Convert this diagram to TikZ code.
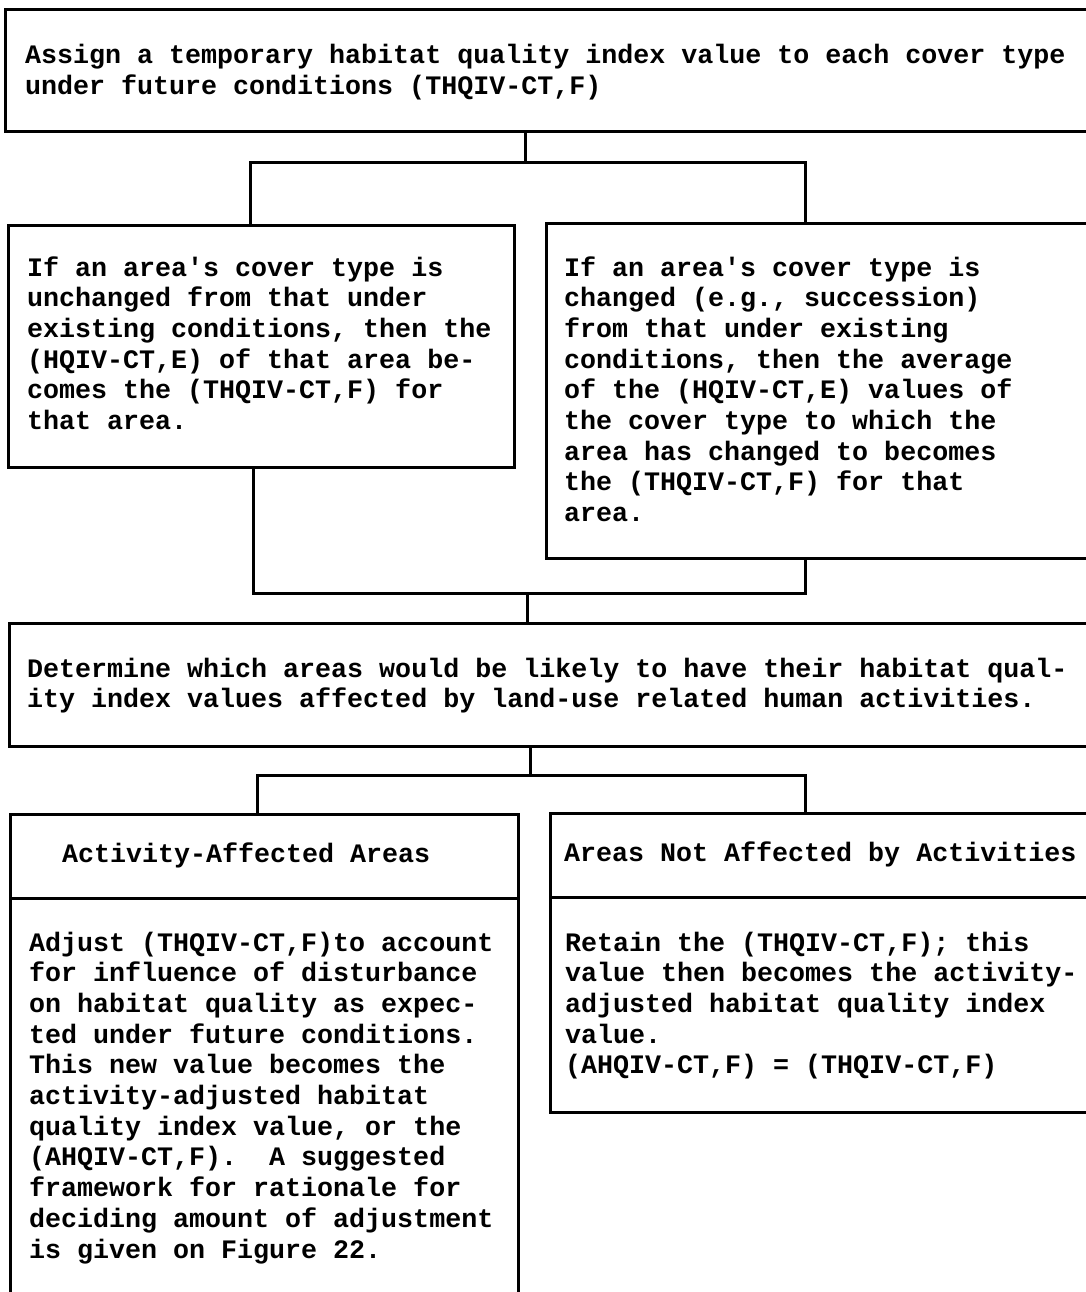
\documentclass[tikz,border=0pt]{standalone}
\usepackage{fontspec}
\setmonofont{Liberation Mono}
\begin{document}
\begin{tikzpicture}[x=1pt,y=-1pt,
  box/.style={draw, line width=3pt, rectangle, inner sep=0pt, anchor=north west},
  wire/.style={line width=3pt, line join=miter},
  txt/.style={anchor=base west, inner sep=0pt,
    font=\fontsize{26.67}{30.7}\selectfont\ttfamily\bfseries}]
\useasboundingbox (0,0) rectangle (1086,1292);
\clip (0,0) rectangle (1086,1292);

% boxes
\node[box, minimum width=1100pt, minimum height=122pt] (b1) at (4,8) {};
\node[box, minimum width=506pt, minimum height=242pt] (b2L) at (7,224) {};
\node[box, minimum width=560pt, minimum height=335pt] (b2R) at (545,222) {};
\node[box, minimum width=1100pt, minimum height=123pt] (b3) at (8,622) {};
\node[box, minimum width=508pt, minimum height=500pt] (b4L) at (9,813) {};
\node[box, minimum width=560pt, minimum height=299pt] (b4R) at (549,812) {};

% header dividers in the lower boxes
\coordinate (dL) at (0,898);
\coordinate (dR) at (0,897);
\draw[wire] (b4L.west |- dL) -- (b4L.east |- dL);
\draw[wire] (b4R.west |- dR) -- (b4R.east |- dR);

% texts
\node[txt] (t1) at (25,63.5) {\parbox[t]{1100pt}{%
Assign a temporary habitat quality index value to each cover type\\
under future conditions (THQIV-CT,F)}};

\node[txt] (t2L) at (27,276) {\parbox[t]{500pt}{%
If an area's cover type is\\
unchanged from that under\\
existing conditions, then the\\
(HQIV-CT,E) of that area be-\\
comes the (THQIV-CT,F) for\\
that area.}};

\node[txt] (t2R) at (564,276) {\parbox[t]{520pt}{%
If an area's cover type is\\
changed (e.g., succession)\\
from that under existing\\
conditions, then the average\\
of the (HQIV-CT,E) values of\\
the cover type to which the\\
area has changed to becomes\\
the (THQIV-CT,F) for that\\
area.}};

\node[txt] (t3) at (27,677) {\parbox[t]{1100pt}{%
Determine which areas would be likely to have their habitat qual-\\
ity index values affected by land-use related human activities.}};

\node[txt] (t4Lh) at (62,862) {Activity-Affected Areas};
\node[txt] (t4Rh) at (564,861) {Areas Not Affected by Activities};

\node[txt] (t4L) at (29,951) {\parbox[t]{500pt}{%
Adjust (THQIV-CT,F)to account\\
for influence of disturbance\\
on habitat quality as expec-\\
ted under future conditions.\\
This new value becomes the\\
activity-adjusted habitat\\
quality index value, or the\\
(AHQIV-CT,F).~ A suggested\\
framework for rationale for\\
deciding amount of adjustment\\
is given on Figure 22.}};

\node[txt] (t4R) at (565,951) {\parbox[t]{520pt}{%
Retain the (THQIV-CT,F); this\\
value then becomes the activity-\\
adjusted habitat quality index\\
value.\\
(AHQIV-CT,F) = (THQIV-CT,F)}};

% connector positions
\coordinate (m1) at (525,163);
\coordinate (l1) at (250,163);
\coordinate (r1) at (805,163);
\coordinate (m2) at (527,593);
\coordinate (l2) at (253,593);
\coordinate (r2) at (805,593);
\coordinate (m3) at (530,775);
\coordinate (l3) at (257,775);
\coordinate (r3) at (805,775);

% first fork
\draw[wire] (m1 |- b1.south) -- (m1);
\draw[wire] (l1 |- b2L.north) -- (l1) -- (r1) -- (r1 |- b2R.north);

% join of the two cover-type cases
\draw[wire] (l2 |- b2L.south) -- (l2) -- (r2) -- (r2 |- b2R.south);
\draw[wire] (m2) -- (m2 |- b3.north);

% second fork
\draw[wire] (m3 |- b3.south) -- (m3);
\draw[wire] (l3 |- b4L.north) -- (l3) -- (r3) -- (r3 |- b4R.north);
\end{tikzpicture}
\end{document}
